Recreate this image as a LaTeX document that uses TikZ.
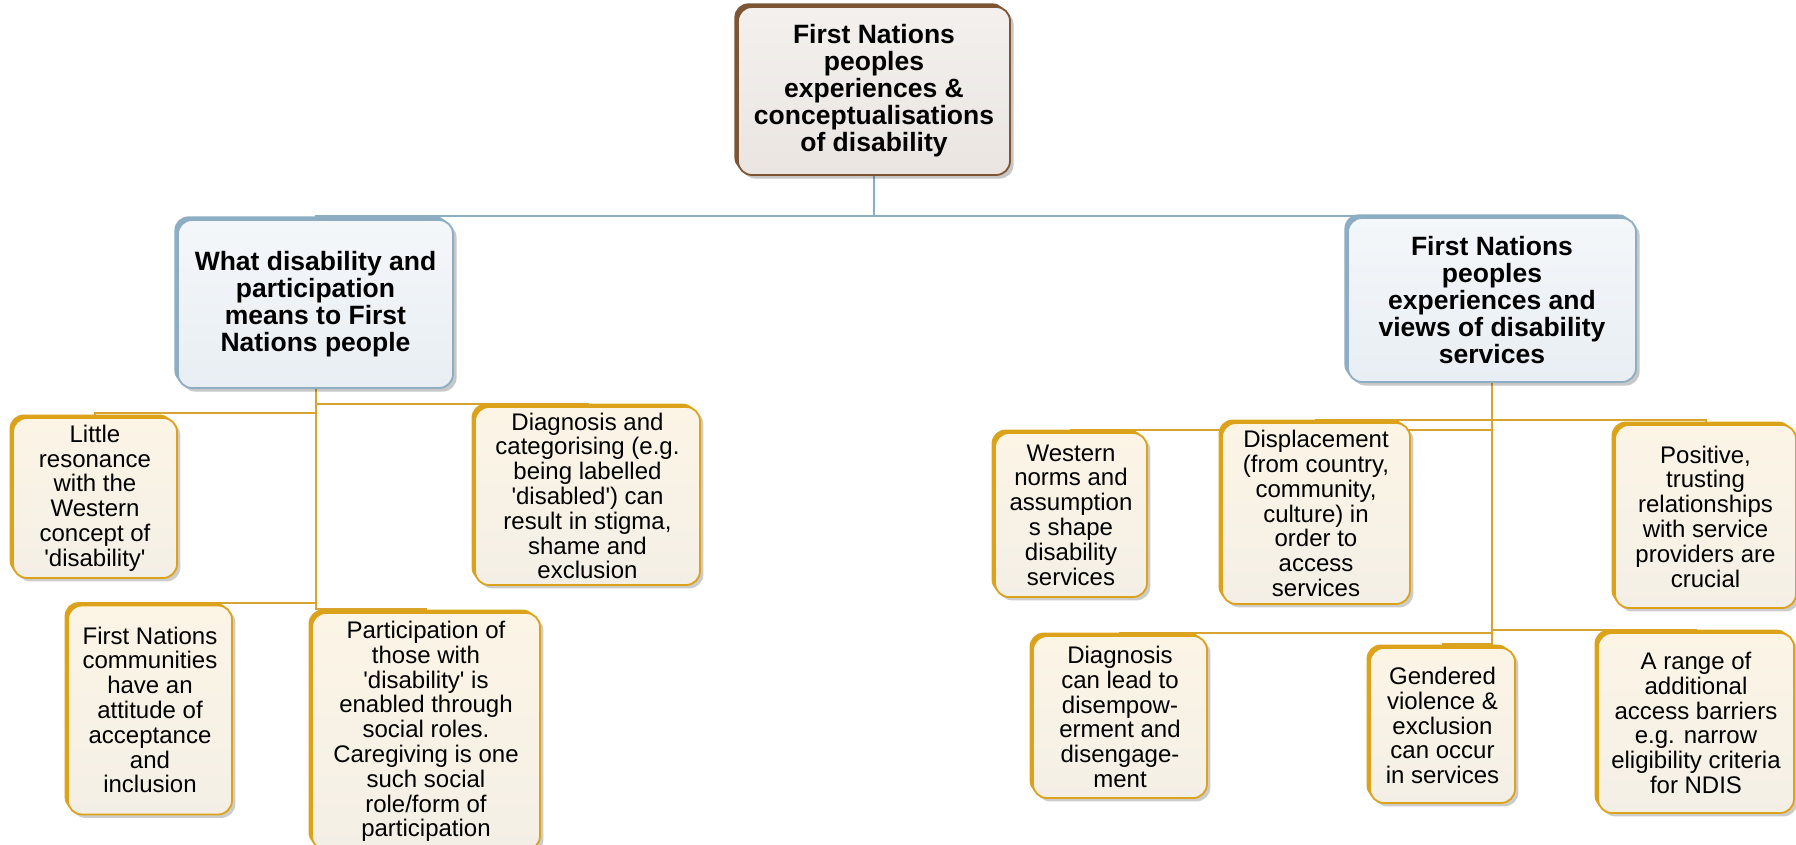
\documentclass[tikz,border=0pt]{standalone}
\usepackage{fontspec}
\setmainfont{Liberation Sans}
\usetikzlibrary{shadows,backgrounds}
\definecolor{rootedge}{HTML}{7D5535}
\definecolor{roottop}{HTML}{F4F0ED}
\definecolor{rootbot}{HTML}{EAE5E1}
\definecolor{midedge}{HTML}{8DADC3}
\definecolor{midtop}{HTML}{F4F7FA}
\definecolor{midbot}{HTML}{E8EEF3}
\definecolor{leafedge}{HTML}{DCA21A}
\definecolor{leaftop}{HTML}{FCF5E6}
\definecolor{leafbot}{HTML}{F4EFE6}
\definecolor{bluelink}{HTML}{8CAEC4}
\definecolor{goldlink}{HTML}{D8A430}
\newcommand{\sq}{\textquotesingle}
\begin{document}
\begin{tikzpicture}[x=0.5pt,y=-0.5pt,line cap=round,line join=round,
  dims/.style 2 args={minimum width=#1*0.5pt,minimum height=#2*0.5pt},
  box/.style={rounded corners=7pt,align=center,inner sep=0pt,line width=0.9pt},
  rootbox/.style={box,draw=rootedge,top color=roottop,bottom color=rootbot,
    general shadow={fill=black,opacity=.22,shadow xshift=1.8pt,shadow yshift=-1.8pt},
    general shadow={fill=rootedge,shadow xshift=-1.8pt,shadow yshift=1.8pt},
    font=\bfseries\fontsize{13.25}{13.5}\selectfont},
  midbox/.style={box,draw=midedge,top color=midtop,bottom color=midbot,
    general shadow={fill=black,opacity=.22,shadow xshift=1.8pt,shadow yshift=-1.8pt},
    general shadow={fill=midedge,shadow xshift=-1.8pt,shadow yshift=1.8pt},
    font=\bfseries\fontsize{13.25}{13.5}\selectfont},
  leaf/.style={box,draw=leafedge,top color=leaftop,bottom color=leafbot,
    general shadow={fill=black,opacity=.2,shadow xshift=1.7pt,shadow yshift=-1.7pt},
    general shadow={fill=leafedge,shadow xshift=-1.7pt,shadow yshift=1.7pt},
    font=\fontsize{12}{12.4}\selectfont},
  toplink/.style={draw=bluelink,line width=1pt},
  sublink/.style={draw=goldlink,line width=1pt}]
  \useasboundingbox (0,0) rectangle (1796,845);

  \node[rootbox,dims={272}{168}] (top) at (874,91)
    {First Nations\\peoples\\experiences \&\\conceptualisations\\of disability};
  \node[midbox,dims={275}{168}] (meaning) at (315.5,304)
    {What disability and\\participation\\means to First\\Nations people};
  \node[midbox,dims={288}{164}] (services) at (1492,300)
    {First Nations\\peoples\\experiences and\\views of disability\\services};

  \node[leaf,dims={164}{160}] (little) at (95,498)
    {Little\\resonance\\with the\\Western\\concept of\\\sq disability\sq};
  \node[leaf,dims={225}{178}] (labelling) at (587.5,496)
    {Diagnosis and\\categorising (e.g.\\being labelled\\\sq disabled\sq) can\\result in stigma,\\shame and\\exclusion};
  \node[leaf,dims={164}{209}] (acceptance) at (150,710)
    {First Nations\\communities\\have an\\attitude of\\acceptance\\and\\inclusion};
  \node[leaf,dims={228}{237}] (roles) at (426,731.5)
    {Participation of\\those with\\\sq disability\sq{} is\\enabled through\\social roles.\\Caregiving is one\\such social\\role/form of\\participation};

  \node[leaf,dims={152}{164}] (western) at (1071,515)
    {Western\\norms and\\assumption\\s shape\\disability\\services};
  \node[leaf,dims={188}{181}] (displace) at (1316,513.5)
    {Displacement\\(from country,\\community,\\culture) in\\order to\\access\\services};
  \node[leaf,dims={181}{183}] (trust) at (1705.5,516.5)
    {Positive,\\trusting\\relationships\\with service\\providers are\\crucial};
  \node[leaf,dims={174}{162}] (disempower) at (1120,717)
    {Diagnosis\\can lead to\\disempow-\\erment and\\disengage-\\ment};
  \node[leaf,dims={145}{155}] (gender) at (1442.5,725.5)
    {Gendered\\violence \&\\exclusion\\can occur\\in services};
  \node[leaf,dims={196}{180}] (barriers) at (1696,723)
    {A range of\\additional\\access barriers\\e.g. narrow\\eligibility criteria\\for NDIS};

  \begin{scope}[on background layer]
    \draw[toplink] (top.south) -- ++(0,40) -| (meaning.north);
    \draw[toplink] (top.south) -- ++(0,40) -| (services.north);

    \draw[sublink] (meaning.south) -- ++(0,24) -| (little.north);
    \draw[sublink] (meaning.south) -- ++(0,15) -| (labelling.north);
    \draw[sublink] (meaning.south) -- ++(0,214) -| (acceptance.north);
    \draw[sublink] (meaning.south) -- ++(0,220) -| (roles.north);

    \draw[sublink] (services.south) -- ++(0,47) -| (western.north);
    \draw[sublink] (services.south) -- ++(0,37) -| (displace.north);
    \draw[sublink] (services.south) -- ++(0,37) -| (trust.north);
    \draw[sublink] (services.south) -- ++(0,250) -| (disempower.north);
    \draw[sublink] (services.south) -- ++(0,261) -| (gender.north);
    \draw[sublink] (services.south) -- ++(0,247) -| (barriers.north);
  \end{scope}
\end{tikzpicture}
\end{document}
